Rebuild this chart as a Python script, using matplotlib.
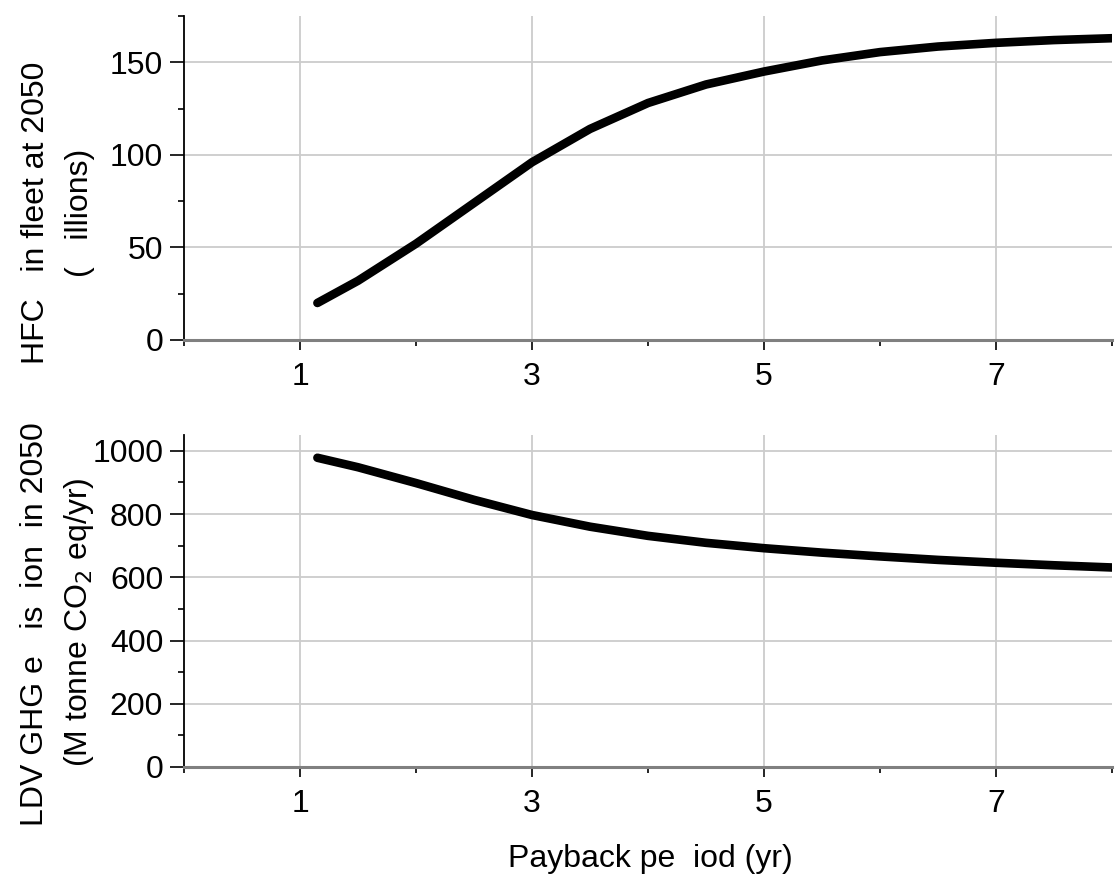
import matplotlib
matplotlib.use("Agg")
import matplotlib.pyplot as plt
from matplotlib.ticker import FixedLocator

plt.rcParams['font.family'] = ['Liberation Sans', 'DejaVu Sans']

# Payback period (yr) and model outputs
payback = [1.15, 1.5, 2.0, 2.5, 3.0, 3.5, 4.0, 4.5, 5.0, 5.5, 6.0, 6.5, 7.0, 7.5, 8.0]
hfcv_fleet = [20, 32, 52, 74, 96, 114, 128, 138, 145, 151, 155.5, 158.5, 160.5, 162, 163]
ghg_emission = [978, 948, 898, 845, 797, 760, 731, 709, 692, 678, 666, 655, 646, 638, 631]

x_major = [1, 3, 5, 7]
x_minor = [0, 2, 4, 6, 8]

W, H = 1116, 876
FS = 23
fig = plt.figure(figsize=(W / 100, H / 100), dpi=100)

left = 184 / W
width = (1112 - 184) / W
ax1 = fig.add_axes([left, 1 - 340 / H, width, (340 - 16) / H])
ax2 = fig.add_axes([left, 1 - 767 / H, width, (767 - 435) / H])


def style(ax, xs, ys, ymax, ymajor, yminor):
    ax.plot(xs, ys, color='black', lw=6.2, solid_capstyle='round',
            solid_joinstyle='round', zorder=3)
    ax.set_xlim(0, 8)
    ax.set_ylim(0, ymax)
    ax.xaxis.set_major_locator(FixedLocator(x_major))
    ax.xaxis.set_minor_locator(FixedLocator(x_minor))
    ax.yaxis.set_major_locator(FixedLocator(ymajor))
    ax.yaxis.set_minor_locator(FixedLocator(yminor))
    ax.grid(True, which='major', color='#cccccc', lw=1.3, zorder=0)
    for s in ('top', 'right'):
        ax.spines[s].set_visible(False)
    ax.spines['left'].set_color('black')
    ax.spines['left'].set_linewidth(1.3)
    ax.spines['bottom'].set_color('#808080')
    ax.spines['bottom'].set_linewidth(2.2)
    ax.tick_params(axis='both', which='major', labelsize=FS, direction='out',
                   color='black', width=1.2)
    ax.tick_params(axis='x', which='major', length=7.5, pad=8)
    ax.tick_params(axis='y', which='major', length=10, pad=5)
    ax.tick_params(axis='x', which='minor', length=4, width=1.2, color='black')
    ax.tick_params(axis='y', which='minor', length=4.5, width=1.2, color='black')
    ax.set_axisbelow(True)


style(ax1, payback, hfcv_fleet, 175, [0, 50, 100, 150], [25, 75, 125, 175])
style(ax2, payback, ghg_emission, 1050, [0, 200, 400, 600, 800, 1000],
      [100, 300, 500, 700, 900])

# Y-axis titles, two lines each
lab_kw = dict(rotation=90, rotation_mode='anchor', ha='center', va='baseline',
              fontsize=FS)
fig.text(44 / W, 1 - 213 / H, 'HFC   in fleet at 2050', **lab_kw)
fig.text(88 / W, 1 - 213 / H, '(   illions)', **lab_kw)
fig.text(43 / W, 1 - 624 / H, 'LDV GHG e   is  ion  in 2050', **lab_kw)
fig.text(87 / W, 1 - 622 / H, r'(M tonne CO$_2$ eq/yr)', **lab_kw)

fig.text(650 / W, 1 - 867 / H, 'Payback pe  iod (yr)', ha='center',
         va='baseline', fontsize=FS)

fig.savefig('out.png', dpi=100)
